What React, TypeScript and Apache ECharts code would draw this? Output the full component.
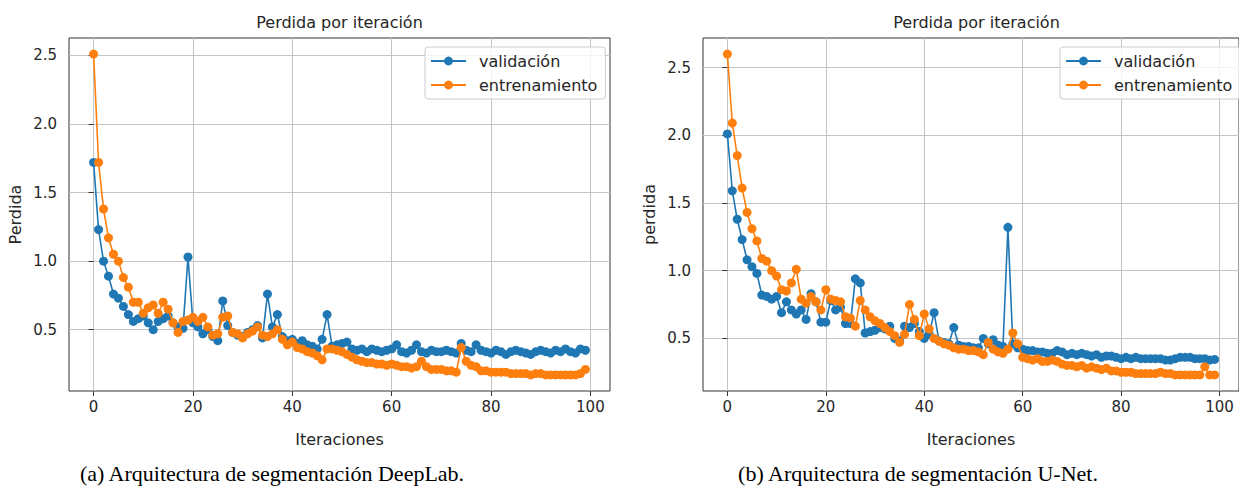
import React, { useEffect, useRef } from "react";
import * as echarts from "echarts";

const iterations = Array.from({ length: 100 }, (_, i) => i);

const deeplabValidacion = [
  1.72, 1.23, 1.0, 0.89, 0.76, 0.73, 0.67, 0.61, 0.56, 0.58,
  0.6, 0.55, 0.5, 0.56, 0.58, 0.6, 0.55, 0.52, 0.51, 1.03,
  0.55, 0.52, 0.47, 0.5, 0.45, 0.42, 0.71, 0.53, 0.48, 0.46,
  0.45, 0.48, 0.5, 0.53, 0.44, 0.76, 0.52, 0.61, 0.45, 0.42,
  0.43, 0.4, 0.42, 0.39, 0.38, 0.36, 0.43, 0.61, 0.38, 0.39,
  0.4, 0.41, 0.36, 0.35, 0.36, 0.34, 0.36, 0.35, 0.34, 0.35,
  0.36, 0.39, 0.34, 0.33, 0.35, 0.39, 0.34, 0.33, 0.35, 0.34,
  0.34, 0.35, 0.34, 0.33, 0.4, 0.35, 0.34, 0.39, 0.35, 0.34,
  0.33, 0.35, 0.34, 0.32, 0.34, 0.35, 0.34, 0.33, 0.32, 0.34,
  0.35, 0.34, 0.33, 0.35, 0.34, 0.36, 0.34, 0.33, 0.36, 0.35,
];

const deeplabEntrenamiento = [
  2.51, 1.72, 1.38, 1.17, 1.05, 1.0, 0.88, 0.81, 0.7, 0.7,
  0.62, 0.66, 0.68, 0.62, 0.7, 0.65, 0.55, 0.48, 0.56, 0.57,
  0.59, 0.56, 0.59, 0.52, 0.46, 0.47, 0.59, 0.6, 0.48, 0.47,
  0.44, 0.47, 0.49, 0.52, 0.46, 0.45, 0.47, 0.5, 0.43, 0.39,
  0.41, 0.37, 0.36, 0.34, 0.33, 0.31, 0.28, 0.36, 0.36, 0.35,
  0.34, 0.32, 0.3, 0.28, 0.27, 0.26, 0.26, 0.25, 0.25, 0.24,
  0.25, 0.24, 0.23, 0.23, 0.22, 0.23, 0.27, 0.23, 0.21, 0.21,
  0.21, 0.2, 0.2, 0.19, 0.37, 0.27, 0.24, 0.23, 0.2, 0.2,
  0.19, 0.19, 0.19, 0.19, 0.18, 0.18, 0.18, 0.18, 0.17, 0.18,
  0.18, 0.17, 0.17, 0.17, 0.17, 0.17, 0.17, 0.17, 0.18, 0.21,
];

const unetValidacion = [
  2.01, 1.59, 1.38, 1.23, 1.08, 1.03, 0.98, 0.82, 0.81, 0.79,
  0.81, 0.69, 0.77, 0.71, 0.68, 0.71, 0.64, 0.83, 0.77, 0.62,
  0.62, 0.78, 0.71, 0.73, 0.61, 0.61, 0.94, 0.91, 0.54, 0.55,
  0.56, 0.58, 0.57, 0.59, 0.5, 0.48, 0.59, 0.58, 0.61, 0.55,
  0.5, 0.53, 0.69, 0.48, 0.47, 0.46, 0.58, 0.45, 0.44, 0.44,
  0.43, 0.43, 0.5, 0.46, 0.49, 0.45, 0.44, 1.32, 0.46, 0.43,
  0.42, 0.41, 0.41, 0.4, 0.4, 0.39, 0.39, 0.41, 0.4, 0.38,
  0.39, 0.38, 0.39, 0.38, 0.37, 0.38, 0.36, 0.37, 0.37, 0.36,
  0.35, 0.36, 0.35, 0.36, 0.35, 0.35, 0.35, 0.35, 0.35, 0.34,
  0.34, 0.35, 0.36, 0.36, 0.36, 0.35, 0.35, 0.35, 0.34, 0.345,
];

const unetEntrenamiento = [
  2.6, 2.09, 1.85, 1.61, 1.43, 1.31, 1.22, 1.09, 1.07, 1.0,
  0.96, 0.86, 0.85, 0.91, 1.01, 0.79, 0.76, 0.81, 0.77, 0.71,
  0.86, 0.79, 0.78, 0.77, 0.66, 0.65, 0.59, 0.78, 0.71, 0.66,
  0.63, 0.61, 0.58, 0.55, 0.52, 0.47, 0.53, 0.75, 0.64, 0.52,
  0.68, 0.57, 0.5, 0.48, 0.46, 0.45, 0.43, 0.42, 0.42, 0.41,
  0.41, 0.4, 0.38, 0.47, 0.42, 0.4, 0.39, 0.42, 0.54, 0.46,
  0.36, 0.35, 0.34, 0.35, 0.33, 0.33, 0.34, 0.33, 0.31, 0.3,
  0.3, 0.29, 0.3, 0.28, 0.29, 0.28, 0.27, 0.28, 0.26, 0.26,
  0.25, 0.25, 0.25, 0.24, 0.24, 0.24, 0.24, 0.24, 0.25, 0.24,
  0.24, 0.23, 0.23, 0.23, 0.23, 0.23, 0.23, 0.29, 0.23, 0.23,
];

const xTicks = [0, 20, 40, 60, 80, 100];
const yTicks = [0.5, 1.0, 1.5, 2.0, 2.5];
const seriesNames = ["validación", "entrenamiento"];
const chartTitles = ["Perdida por iteración", "Perdida por iteración"];
const yNames = ["Perdida", "perdida"];
const xName = "Iteraciones";
const captions = [
  "(a) Arquitectura de segmentación DeepLab.",
  "(b) Arquitectura de segmentación U-Net.",
];

const BLUE = "#1f77b4";
const ORANGE = "#ff7f0e";
const SANS = "DejaVu Sans";
const TEXT = "#262626";

function paddedRange(a: number[], b: number[]): [number, number] {
  const all = a.concat(b);
  const lo = Math.min(...all);
  const hi = Math.max(...all);
  const m = (hi - lo) * 0.05;
  return [lo - m, hi + m];
}

export default function App() {
  const ref = useRef<HTMLDivElement>(null);

  useEffect(() => {
    document.body.style.margin = "0";
    if (!ref.current) return;
    const chart = echarts.init(ref.current, null, { renderer: "svg" });

    const grids = [
      { left: 69, top: 38, width: 541, height: 353 },
      { left: 703, top: 38, width: 547, height: 353 },
    ];
    const panels = [
      [deeplabValidacion, deeplabEntrenamiento],
      [unetValidacion, unetEntrenamiento],
    ];
    const xMin = -0.05 * 99;
    const xMax = 99 + 0.05 * 99;

    const xAxes = grids.map((_, gi) => ({
      type: "value",
      gridIndex: gi,
      min: xMin,
      max: xMax,
      name: xName,
      nameLocation: "middle",
      nameGap: 40,
      nameTextStyle: { fontFamily: SANS, fontSize: 16, color: TEXT },
      axisLine: { show: false },
      axisTick: {
        show: true,
        length: 5,
        customValues: xTicks,
        lineStyle: { color: "#333", width: 1 },
      },
      axisLabel: {
        customValues: xTicks,
        margin: 8,
        fontFamily: SANS,
        fontSize: 15,
        color: TEXT,
      },
      splitLine: { show: true, lineStyle: { color: "#c4c4c4", width: 1 } },
    }));

    const yAxes = grids.map((_, gi) => {
      const [lo, hi] = paddedRange(panels[gi][0], panels[gi][1]);
      return {
        type: "value",
        gridIndex: gi,
        min: lo,
        max: hi,
        name: yNames[gi],
        nameLocation: "middle",
        nameGap: 46,
        nameRotate: 90,
        nameTextStyle: { fontFamily: SANS, fontSize: 16, color: TEXT },
        axisLine: { show: false },
        axisTick: {
          show: true,
          length: 5,
          customValues: yTicks,
          lineStyle: { color: "#333", width: 1 },
        },
        axisLabel: {
          customValues: yTicks,
          margin: 12,
          fontFamily: SANS,
          fontSize: 15,
          color: TEXT,
          formatter: (v: number) => v.toFixed(1),
        },
        splitLine: { show: true, lineStyle: { color: "#c4c4c4", width: 1 } },
      };
    });

    const series: any[] = [];
    panels.forEach((pair, gi) => {
      pair.forEach((vals, si) => {
        series.push({
          name: seriesNames[si],
          type: "line",
          xAxisIndex: gi,
          yAxisIndex: gi,
          data: iterations.map((it, k) => [it, vals[k]]),
          symbol: "circle",
          symbolSize: 9,
          showAllSymbol: true,
          lineStyle: { color: si === 0 ? BLUE : ORANGE, width: 1.6 },
          itemStyle: { color: si === 0 ? BLUE : ORANGE },
          emphasis: { disabled: true },
          z: 2 + si,
        });
      });
    });

    const legendBase = {
      orient: "vertical",
      top: 47,
      padding: [6, 8, 6, 5],
      itemGap: 8,
      itemWidth: 35,
      itemHeight: 11,
      selectedMode: false,
      backgroundColor: "rgba(255,255,255,0.8)",
      borderColor: "#cccccc",
      borderWidth: 1,
      borderRadius: 3,
      data: seriesNames,
      textStyle: {
        fontFamily: SANS,
        fontSize: 16,
        color: TEXT,
        padding: [0, 0, 0, 8],
      },
    };

    const centers = [69 + 541 / 2, 703 + 547 / 2];
    const captionCenters = [272, 918];

    const graphics: any[] = [];
    chartTitles.forEach((t, i) => {
      graphics.push({
        type: "text",
        x: centers[i],
        y: 22,
        style: {
          text: t,
          align: "center",
          verticalAlign: "middle",
          fontFamily: SANS,
          fontSize: 16,
          fill: TEXT,
        },
      });
    });
    captions.forEach((c, i) => {
      graphics.push({
        type: "text",
        x: captionCenters[i],
        y: 473,
        style: {
          text: c,
          align: "center",
          verticalAlign: "middle",
          fontFamily: "Liberation Serif",
          fontSize: 22,
          fill: "#000",
        },
      });
    });

    chart.setOption({
      animation: false,
      grid: grids.map((g) => ({
        ...g,
        show: true,
        borderColor: "#333",
        borderWidth: 1,
        backgroundColor: "transparent",
        containLabel: false,
      })),
      xAxis: xAxes,
      yAxis: yAxes,
      legend: [
        { ...legendBase, left: 425 },
        { ...legendBase, left: 1060 },
      ],
      series,
      graphic: graphics,
    });

    return () => chart.dispose();
  }, []);

  return <div ref={ref} style={{ width: 1239, height: 487 }} />;
}
